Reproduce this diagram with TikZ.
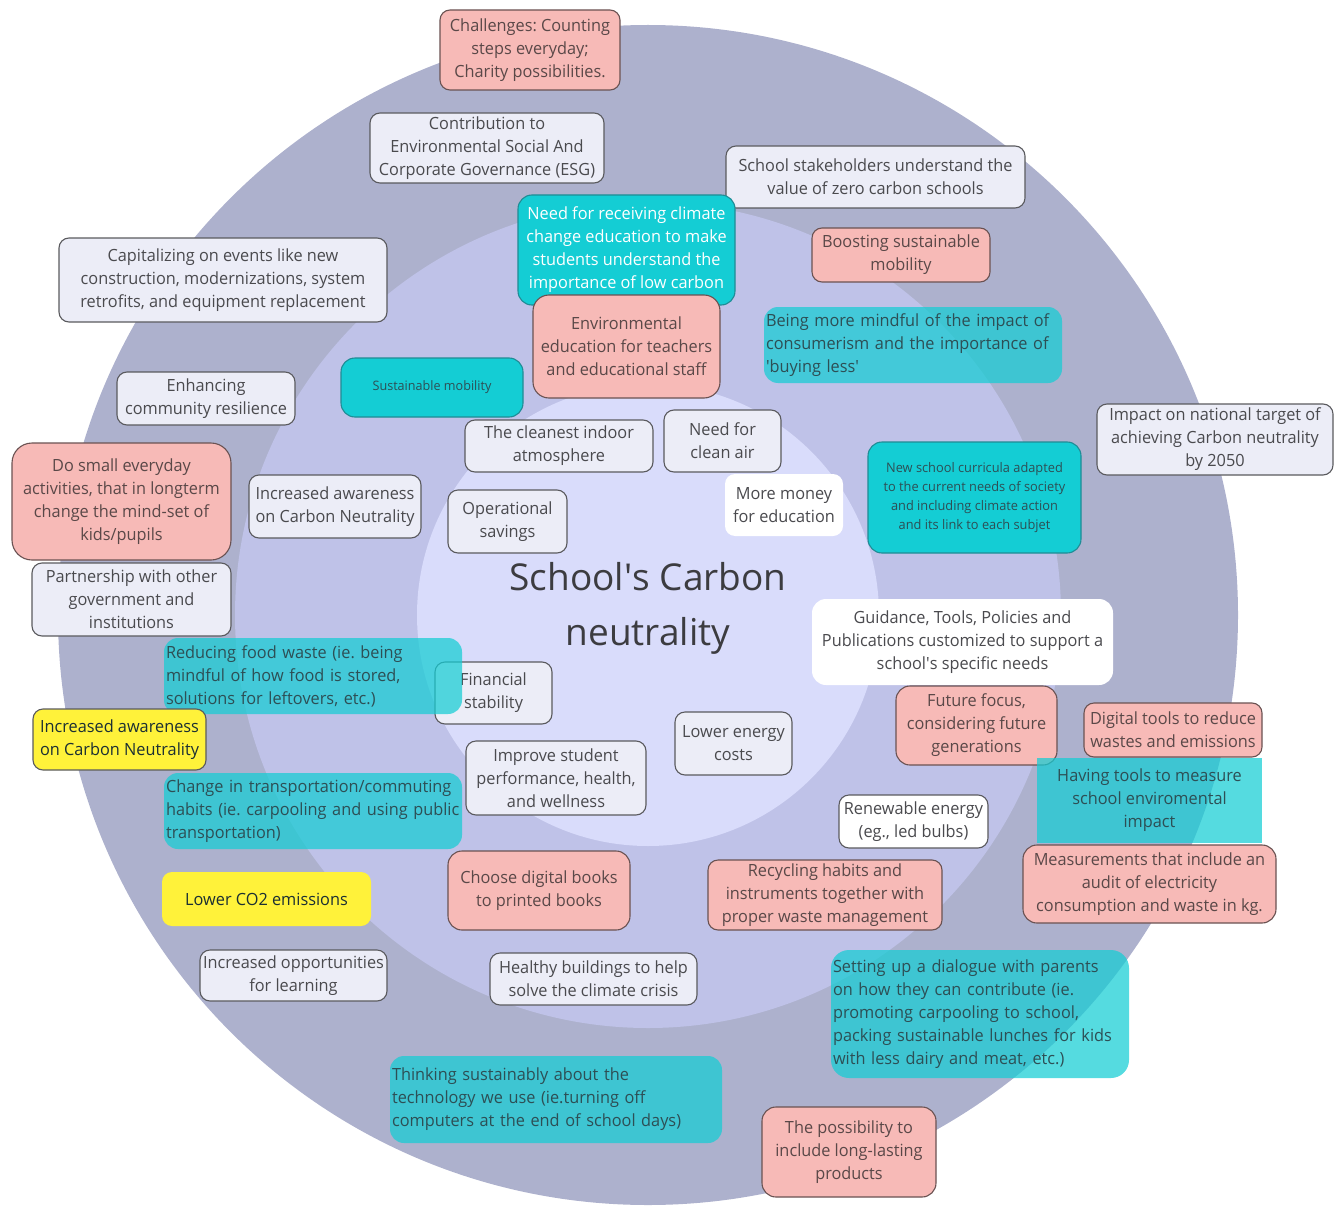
\documentclass[tikz,border=0pt]{standalone}
\usepackage{fontspec}
\setmainfont{Open Sans}
\newfontfamily\boxfont{Open Sans}[FakeStretch=0.97]
\definecolor{outerc}{HTML}{ADB1CD}
\definecolor{midc}{HTML}{BFC2E8}
\definecolor{innerc}{HTML}{D9DCFB}
\definecolor{boxgray}{HTML}{ECEDF7}
\definecolor{bordergray}{HTML}{5A5A5E}
\definecolor{boxpink}{HTML}{F7BAB7}
\definecolor{borderpink}{HTML}{6A5252}
\definecolor{txtgray}{HTML}{4A4A4E}
\definecolor{txtpink}{HTML}{5A4848}
\definecolor{cyanc}{HTML}{14CDD4}
\definecolor{cyanborder}{HTML}{1F8C95}
\definecolor{txtteal}{HTML}{2D4F55}
\definecolor{yel}{HTML}{FFF23A}
\definecolor{titlec}{HTML}{3C3C40}
\tikzset{
  box/.style={rounded corners=10pt, line width=1.1pt, inner sep=2pt, align=center,
    font=\boxfont\frenchspacing\fontsize{16.8}{23}\selectfont, text=txtgray},
  sz/.style 2 args={minimum width=#1, minimum height=#2},
  gbox/.style={box, fill=boxgray, draw=bordergray},
  wbox/.style={box, fill=white},
  wboxd/.style={box, fill=white, draw=bordergray},
  pbox/.style={box, fill=boxpink, draw=borderpink, text=txtpink},
  cbox/.style={box, fill=cyanc, draw=cyanborder, rounded corners=14pt},
  tbox/.style={box, fill=cyanc, fill opacity=0.72, text opacity=1, draw=none, align=left, text=txtteal, rounded corners=14pt},
  ybox/.style={box, fill=yel, text=txtteal!60!black},
}
\begin{document}
\begin{tikzpicture}[x=1pt,y=-1pt]
\useasboundingbox (0,0) rectangle (1338,1209);
% rings
\fill[outerc] (648,615) circle[radius=590];
\fill[midc] (648,615) circle[radius=413];
\fill[innerc] (648,615) circle[radius=231];
\node[font=\fontsize{37}{55}\selectfont, text=titlec, align=center] (title) at (648,608) {School\textquotesingle s Carbon\\neutrality};

% top
\node[pbox, sz={180}{80}] (chal) at (530,50) {Challenges: Counting\\steps everyday;\\Charity possibilities.};
\node[gbox, sz={234}{70}] (esg) at (487,148) {Contribution to\\Environmental Social And\\Corporate Governance (ESG)};
\node[gbox, sz={299}{62}] (stake) at (875.5,177) {School stakeholders understand the\\value of zero carbon schools};
\node[cbox, sz={217}{110}, text=white] (needclim) at (626.5,250) {Need for receiving climate\\change education to make\\students understand the\\importance of low carbon};
\node[pbox, sz={178}{54}] (boost) at (901,255) {Boosting sustainable\\mobility};
\node[pbox, sz={187}{103}, rounded corners=16pt] (envedu) at (626.5,346.5) {Environmental\\education for teachers\\and educational staff};
\node[tbox, text width=294, minimum height=76] (mindful) at (913,345) {Being more mindful of the impact of\\consumerism and the importance of\\\textquotesingle buying less\textquotesingle};
\node[gbox, sz={328}{84}] (capit) at (223,280) {Capitalizing on events like new\\construction, modernizations, system\\retrofits, and equipment replacement};
\node[gbox, sz={178}{53}] (enh) at (206,398.5) {Enhancing\\community resilience};
\node[cbox, sz={182}{59}, text=txtteal, font=\boxfont\fontsize{13}{15}\selectfont] (susmob) at (432,387.5) {Sustainable mobility};
\node[gbox, sz={188}{52}] (cleanest) at (559,446) {The cleanest indoor\\atmosphere};
\node[gbox, sz={117}{62}] (cleanair) at (722.5,441) {Need for\\clean air};
\node[gbox, sz={236}{71}] (impact) at (1215,439.5) {Impact on national target of\\achieving Carbon neutrality\\by 2050};

% middle band
\node[pbox, sz={219}{117}, rounded corners=20pt] (dosmall) at (121.5,501.5) {Do small everyday\\activities, that in longterm\\change the mind-set of\\kids/pupils};
\node[gbox, sz={172}{63}] (incaw) at (335,506.5) {Increased awareness\\on Carbon Neutrality};
\node[gbox, sz={119}{63}] (opsav) at (507.5,521.5) {Operational\\savings};
\node[wbox, sz={118}{62}] (money) at (784,505) {More money\\for education};
\node[cbox, sz={213}{111}, text=txtteal, font=\boxfont\fontsize{13.2}{19}\selectfont] (curric) at (974.5,497.5) {New school curricula adapted\\to the current needs of society\\and including climate action\\and its link to each subjet};
\node[gbox, sz={199}{73}] (partner) at (131.5,599.5) {Partnership with other\\government and\\institutions};
\node[wbox, sz={301}{86}, rounded corners=14pt] (guide) at (962.5,642) {Guidance, Tools, Policies and\\Publications customized to support a\\school\textquotesingle s specific needs};
\node[gbox, sz={117}{62}] (finance) at (493.5,693) {Financial\\stability};
\node[tbox, text width=294, minimum height=76] (food) at (313,676) {Reducing food waste (ie. being\\mindful of how food is stored,\\solutions for leftovers, etc.)};
\node[ybox, draw=bordergray, sz={173}{61}] (yawr) at (119.5,739.5) {Increased awareness\\on Carbon Neutrality};
\node[gbox, sz={117}{63}] (lowen) at (733.5,743.5) {Lower energy\\costs};
\node[pbox, sz={161}{79}, rounded corners=14pt] (future) at (976.5,725.5) {Future focus,\\considering future\\generations};
\node[pbox, sz={178}{54}] (digital) at (1173,730) {Digital tools to reduce\\wastes and emissions};
\node[gbox, sz={180}{74}] (improve) at (556,778) {Improve student\\performance, health,\\and wellness};
\node[tbox, text width=294, minimum height=76] (transp) at (313,811) {Change in transportation/commuting\\habits (ie. carpooling and using public\\transportation)};
\node[tbox, sz={225}{85}, rounded corners=0pt, align=center] (having) at (1149.5,800.5) {Having tools to measure\\school enviromental\\impact};
\node[wboxd, sz={149}{53}] (renew) at (913.5,821.5) {Renewable energy\\(eg., led bulbs)};
\node[pbox, sz={253}{78}, rounded corners=14pt] (measure) at (1149.5,884) {Measurements that include an\\audit of electricity\\consumption and waste in kg.};
\node[pbox, sz={182}{79}, rounded corners=14pt] (digbooks) at (539,890.5) {Choose digital books\\to printed books};
\node[pbox, sz={234}{70}] (recyc) at (825,895) {Recycling habits and\\instruments together with\\proper waste management};
\node[ybox, sz={209}{54}] (lowco2) at (266.5,899) {Lower CO2 emissions};
\node[gbox, sz={187}{51}] (incopp) at (293.5,975.5) {Increased opportunities\\for learning};
\node[gbox, sz={207}{52}] (healthy) at (593.5,979) {Healthy buildings to help\\solve the climate crisis};
\node[tbox, text width=294, minimum height=128, rounded corners=18pt] (dialogue) at (980,1014) {Setting up a dialogue with parents\\on how they can contribute (ie.\\promoting carpooling to school,\\packing sustainable lunches for kids\\with less dairy and meat, etc.)};
\node[tbox, text width=328, minimum height=87] (thinking) at (556,1099.5) {Thinking sustainably about the\\technology we use (ie.turning off\\computers at the end of school days)};
\node[pbox, sz={174}{90}, rounded corners=14pt] (possib) at (849,1152) {The possibility to\\include long-lasting\\products};
\end{tikzpicture}
\end{document}
